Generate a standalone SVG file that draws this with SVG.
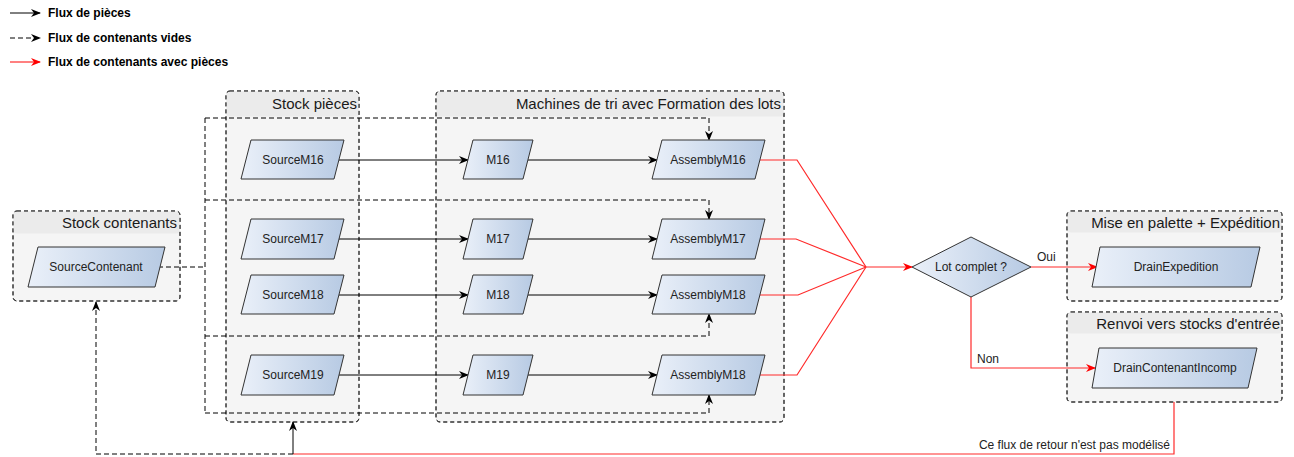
<svg xmlns="http://www.w3.org/2000/svg" width="1294" height="457" viewBox="0 0 1294 457">
<defs>
<linearGradient id="g" x1="0" y1="0" x2="1" y2="0">
<stop offset="0" stop-color="#eaf0f9"/>
<stop offset="1" stop-color="#b7cae3"/>
</linearGradient>
<marker id="ab" viewBox="0 0 10 10" refX="9" refY="5" markerWidth="10" markerHeight="10" markerUnits="userSpaceOnUse" orient="auto">
<path d="M0,1 L10,5 L0,9 L3,5 z" fill="#000"/>
</marker>
<marker id="ar" viewBox="0 0 10 10" refX="9" refY="5" markerWidth="10" markerHeight="10" markerUnits="userSpaceOnUse" orient="auto">
<path d="M0,1 L10,5 L0,9 L3,5 z" fill="#ff0000"/>
</marker>
</defs>
<style>
.cont{fill:#f5f5f5;stroke:#333;stroke-dasharray:4 3;stroke-width:1}
.hdr{fill:#ebebeb}
.ct{font-family:"Liberation Sans",Arial,sans-serif;font-size:15px;fill:#1a1a1a;text-anchor:end}
.node{fill:url(#g);stroke:#333;stroke-width:1}
.nt{font-family:"Liberation Sans",Arial,sans-serif;font-size:12px;fill:#222;text-anchor:middle;dominant-baseline:central}
.lt{font-family:"Liberation Sans",Arial,sans-serif;font-size:12px;font-weight:bold;fill:#000}
.lab{font-family:"Liberation Sans",Arial,sans-serif;font-size:12px;fill:#222}
.solid{fill:none;stroke:#000;stroke-width:1}
.dash{fill:none;stroke:#000;stroke-width:1;stroke-dasharray:5 3}
.red{fill:none;stroke:#ff2a2a;stroke-width:1.2}
</style>
<rect width="1294" height="457" fill="#fff"/>

<g id="legend">
<line x1="10" y1="13" x2="40" y2="13" class="solid" marker-end="url(#ab)"/>
<text x="48" y="17" class="lt">Flux de pièces</text>
<line x1="10" y1="38" x2="40" y2="38" class="dash" marker-end="url(#ab)"/>
<text x="48" y="42" class="lt">Flux de contenants vides</text>
<line x1="10" y1="62" x2="40" y2="62" class="red" marker-end="url(#ar)"/>
<text x="48" y="66" class="lt">Flux de contenants avec pièces</text>
</g>

<g id="stock-contenants">
<rect x="13" y="211" width="167" height="90" rx="4" class="cont"/>
<rect x="13.5" y="211.5" width="166" height="22" rx="3.5" class="hdr"/>
<rect x="13" y="211" width="167" height="90" rx="4" fill="none" stroke="#333" stroke-dasharray="4 3"/>
<text x="177" y="228" class="ct">Stock contenants</text>
</g>

<g id="stock-pieces">
<rect x="226" y="91" width="133" height="331" rx="4" class="cont"/>
<rect x="226.5" y="91.5" width="132" height="25" rx="3.5" class="hdr"/>
<rect x="226" y="91" width="133" height="331" rx="4" fill="none" stroke="#333" stroke-dasharray="4 3"/>
<text x="357" y="109" class="ct">Stock pièces</text>
</g>

<g id="machines">
<rect x="436" y="91" width="348" height="331" rx="4" class="cont"/>
<rect x="436.5" y="91.5" width="347" height="25" rx="3.5" class="hdr"/>
<rect x="436" y="91" width="348" height="331" rx="4" fill="none" stroke="#333" stroke-dasharray="4 3"/>
<text x="781" y="109" class="ct">Machines de tri avec Formation des lots</text>
</g>

<g id="mise-en-palette">
<rect x="1067" y="211" width="215" height="90" rx="4" class="cont"/>
<rect x="1067.5" y="211.5" width="214" height="21" rx="3.5" class="hdr"/>
<rect x="1067" y="211" width="215" height="90" rx="4" fill="none" stroke="#333" stroke-dasharray="4 3"/>
<text x="1280" y="228" class="ct">Mise en palette + Expédition</text>
</g>

<g id="renvoi">
<rect x="1067" y="312" width="215" height="90" rx="4" class="cont"/>
<rect x="1067.5" y="312.5" width="214" height="21" rx="3.5" class="hdr"/>
<rect x="1067" y="312" width="215" height="90" rx="4" fill="none" stroke="#333" stroke-dasharray="4 3"/>
<text x="1280" y="329" class="ct">Renvoi vers stocks d'entrée</text>
</g>

<g id="connectors">
<polyline points="158,267 205,267" class="dash"/>
<polyline points="205,118 205,413" class="dash"/>
<polyline points="205,118 709,118 709,140" class="dash" marker-end="url(#ab)"/>
<polyline points="205,200 709,200 709,219" class="dash" marker-end="url(#ab)"/>
<polyline points="205,336 709,336 709,314" class="dash" marker-end="url(#ab)"/>
<polyline points="205,413 709,413 709,395" class="dash" marker-end="url(#ab)"/>
<line x1="339" y1="160" x2="468" y2="160" class="solid" marker-end="url(#ab)"/>
<line x1="528" y1="160" x2="657" y2="160" class="solid" marker-end="url(#ab)"/>
<line x1="339" y1="239" x2="468" y2="239" class="solid" marker-end="url(#ab)"/>
<line x1="528" y1="239" x2="657" y2="239" class="solid" marker-end="url(#ab)"/>
<line x1="339" y1="295" x2="468" y2="295" class="solid" marker-end="url(#ab)"/>
<line x1="528" y1="295" x2="657" y2="295" class="solid" marker-end="url(#ab)"/>
<line x1="339" y1="375" x2="468" y2="375" class="solid" marker-end="url(#ab)"/>
<line x1="528" y1="375" x2="657" y2="375" class="solid" marker-end="url(#ab)"/>
<polyline points="760,160 797,160 866,267" class="red"/>
<polyline points="760,239 796,239 866,267" class="red"/>
<polyline points="760,295 798,295 866,267" class="red"/>
<polyline points="760,375 797,375 866,267" class="red"/>
<line x1="866" y1="267" x2="912" y2="267" class="red" marker-end="url(#ar)"/>
<line x1="1031" y1="267" x2="1097" y2="267" class="red" marker-end="url(#ar)"/>
<text x="1037" y="261" class="lab">Oui</text>
<polyline points="971,297 971,368 1095,368" class="red" marker-end="url(#ar)"/>
<text x="977" y="363" class="lab">Non</text>
<polyline points="1174,402 1174,454 293,454" class="red"/>
<text x="1170" y="449" class="lab" text-anchor="end">Ce flux de retour n'est pas modélisé</text>
<line x1="293" y1="454" x2="293" y2="422" class="solid" marker-end="url(#ab)"/>
<polyline points="293,454 96,454 96,302" class="dash" marker-end="url(#ab)"/>
</g>

<g id="SourceContenant"><polygon points="38,247 165,247 155,287 28,287" class="node"/><text x="96" y="267" class="nt">SourceContenant</text></g>

<g id="SourceM16"><polygon points="251,140 344,140 334,179 241,179" class="node"/><text x="293" y="160" class="nt">SourceM16</text></g>
<g id="SourceM17"><polygon points="251,219 344,219 334,259 241,259" class="node"/><text x="293" y="239" class="nt">SourceM17</text></g>
<g id="SourceM18"><polygon points="251,275 344,275 334,314 241,314" class="node"/><text x="293" y="295" class="nt">SourceM18</text></g>
<g id="SourceM19"><polygon points="251,355 344,355 334,395 241,395" class="node"/><text x="293" y="375" class="nt">SourceM19</text></g>

<g id="M16"><polygon points="473,140 533,140 523,179 463,179" class="node"/><text x="498" y="160" class="nt">M16</text></g>
<g id="M17"><polygon points="473,219 533,219 523,259 463,259" class="node"/><text x="498" y="239" class="nt">M17</text></g>
<g id="M18"><polygon points="473,275 533,275 523,314 463,314" class="node"/><text x="498" y="295" class="nt">M18</text></g>
<g id="M19"><polygon points="473,355 533,355 523,395 463,395" class="node"/><text x="498" y="375" class="nt">M19</text></g>

<g id="AssemblyM16"><polygon points="662,140 765,140 755,179 652,179" class="node"/><text x="708" y="160" class="nt">AssemblyM16</text></g>
<g id="AssemblyM17"><polygon points="662,219 765,219 755,259 652,259" class="node"/><text x="708" y="239" class="nt">AssemblyM17</text></g>
<g id="AssemblyM18"><polygon points="662,275 765,275 755,314 652,314" class="node"/><text x="708" y="295" class="nt">AssemblyM18</text></g>
<g id="AssemblyM18b"><polygon points="662,355 765,355 755,395 652,395" class="node"/><text x="708" y="375" class="nt">AssemblyM18</text></g>

<g id="LotComplet"><polygon points="912,267 971,237 1031,267 971,297" class="node"/><text x="971" y="267" class="nt">Lot complet ?</text></g>

<g id="DrainExpedition"><polygon points="1100,247 1260,247 1251,287 1092,287" class="node"/><text x="1176" y="267" class="nt">DrainExpedition</text></g>
<g id="DrainContenantIncomp"><polygon points="1099,348 1257,348 1248,388 1092,388" class="node"/><text x="1175" y="368" class="nt">DrainContenantIncomp</text></g>
</svg>
